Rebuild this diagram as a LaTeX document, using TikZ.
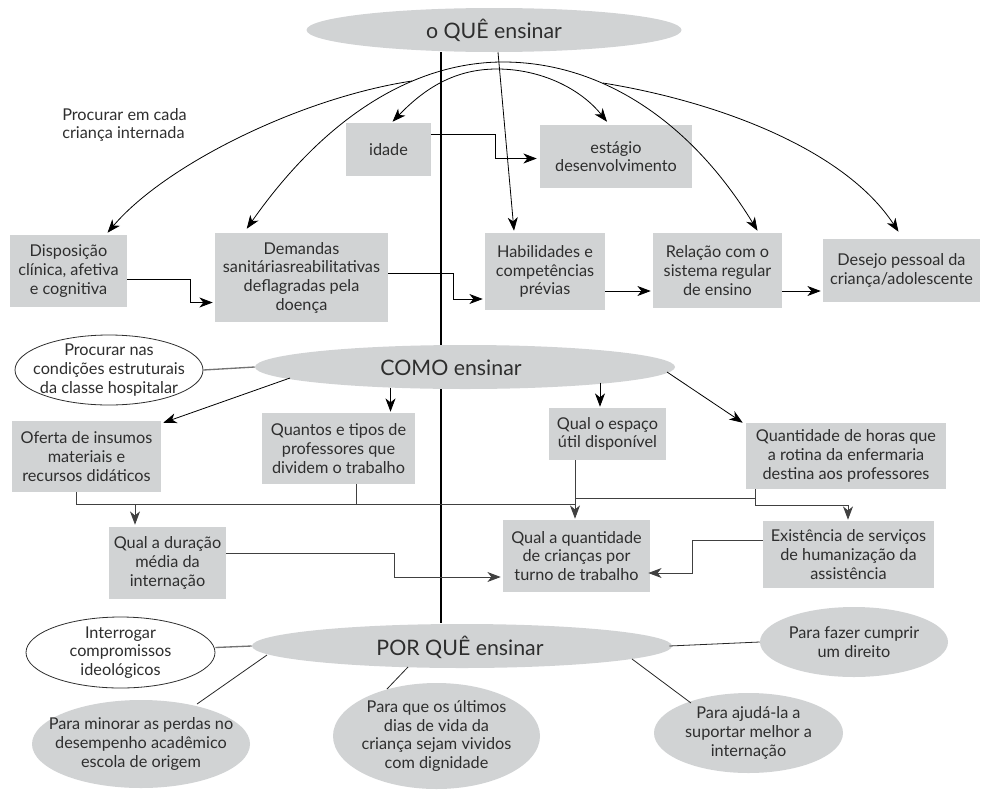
\documentclass[tikz,border=0pt]{standalone}
\usepackage{fontspec}
\setmainfont{Lato}
\usetikzlibrary{shapes.geometric,arrows.meta,calc,backgrounds}
\definecolor{boxgray}{HTML}{D1D3D4}
\definecolor{ink}{HTML}{2E2E2E}
\begin{document}
\begin{tikzpicture}[x=0.75pt,y=-0.75pt,
  txt/.style={text=ink, font=\fontsize{12.2}{14}\selectfont, align=center, inner sep=0pt},
  bigtxt/.style={text=ink, font=\fontsize{16}{19}\selectfont, inner sep=0pt},
  gbox/.style={fill=boxgray, txt},
  oval/.style={ellipse, fill=boxgray, inner sep=0pt},
  woval/.style={ellipse, draw=ink, fill=white, line width=0.6pt, inner sep=0pt},
  tip/.tip={Stealth[length=10pt,width=7.5pt,inset=3pt]},
  arr/.style={-tip, line width=0.6pt, draw=black},
  darr/.style={tip-tip, line width=0.6pt, draw=black},
  cline/.style={line width=0.7pt, draw=black!75},
  carr/.style={-tip, line width=0.7pt, draw=black!75},
  gline/.style={line width=1pt, draw=black!55},
  tline/.style={line width=0.6pt, draw=black!85},
]
\useasboundingbox (0,0) rectangle (981,789);

% ---- main ellipses
\node[oval, minimum width=281.25pt, minimum height=33pt] (oque) at (494,30) {};
\node[bigtxt] (oquet) at (oque) {o QUÊ ensinar};
\node[oval, minimum width=315pt, minimum height=33pt] (como) at (465,367) {};
\node[bigtxt] (comot) at (451,368) {COMO ensinar};
\node[oval, minimum width=315pt, minimum height=33pt] (porque) at (462,646) {};
\node[bigtxt] (porquet) at (460,647) {POR QUÊ ensinar};

% ---- axis
\begin{pgfonlayer}{background}
\draw[line width=0.8pt] ($(oque.south)+(-53,0)$) -- ($(porque.north)+(-21,-1)$);
\end{pgfonlayer}

% ---- label
\node[txt, align=left, anchor=west] (lbl) at (62,125) {Procurar em cada\\criança internada};

% ---- top boxes
\node[gbox, minimum width=63.75pt, minimum height=39.75pt] (idade) at (388.5,149.5) {idade};
\node[gbox, minimum width=114pt, minimum height=47.25pt] (estagio) at (616,156.5) {estágio\\desenvolvimento};
\node[gbox, minimum width=87.75pt, minimum height=54pt] (disp) at (68.5,271) {Disposição\\clínica, afetiva\\e cognitiva};
\node[gbox, minimum width=129.75pt, minimum height=66.75pt] (dem) at (301.5,277.5) {Demandas\\sanitáriasreabilitativas\\deflagradas pela\\doença};
\node[gbox, minimum width=90pt, minimum height=57.75pt] (hab) at (545,271.5) {Habilidades e\\competências\\prévias};
\node[gbox, minimum width=96.75pt, minimum height=56.25pt] (rel) at (717.5,270.5) {Relação com o\\sistema regular\\de ensino};
\node[gbox, minimum width=117.75pt, minimum height=47.25pt] (des) at (901.5,270.5) {Desejo pessoal da\\criança/adolescente};

% ---- COMO boxes
\node[woval, minimum width=141pt, minimum height=52.5pt] (procnas) at (109,370) {};
\node[txt] (procnast) at (procnas) {Procurar nas\\condições estruturais\\da classe hospitalar};
\node[gbox, minimum width=111.75pt, minimum height=53.25pt] (oferta) at (86.5,456.5) {Oferta de insumos\\materiais e\\recursos didáticos};
\node[gbox, minimum width=114.75pt, minimum height=53.25pt] (quantos) at (338.5,448.5) {Quantos e tipos de\\professores que\\dividem o trabalho};
\node[gbox, minimum width=87.75pt, minimum height=39pt] (espaco) at (607.5,434) {Qual o espaço\\útil disponível};
\node[gbox, minimum width=150pt, minimum height=49.5pt] (horas) at (846,456) {Quantidade de horas que\\a rotina da enfermaria\\destina aos professores};
\node[gbox, minimum width=87.75pt, minimum height=54pt] (duracao) at (167.5,563) {Qual a duração\\média da\\internação};
\node[gbox, minimum width=110.25pt, minimum height=54pt] (qtd) at (576.5,556) {Qual a quantidade\\de crianças por\\turno de trabalho};
\node[gbox, minimum width=128.25pt, minimum height=50.25pt] (exist) at (848.5,554.5) {Existência de serviços\\de humanização da\\assistência};

% ---- POR QUE ellipses
\node[woval, minimum width=141.75pt, minimum height=53.25pt] (interrogar) at (120.5,652.5) {};
\node[txt] (interrogart) at (interrogar) {Interrogar\\compromissos\\ideológicos};
\node[oval, minimum width=163.5pt, minimum height=66pt] (minorar) at (141,744) {};
\node[txt] (minorart) at (minorar) {Para minorar as perdas no\\desempenho acadêmico\\escola de origem};
\node[oval, minimum width=155.25pt, minimum height=79.5pt] (ultimos) at (436.5,736) {};
\node[txt] (ultimost) at (ultimos) {Para que os últimos\\dias de vida da\\criança sejam vividos\\com dignidade};
\node[oval, minimum width=141.75pt, minimum height=60pt] (ajuda) at (748.5,733) {};
\node[txt] (ajudat) at (ajuda) {Para ajudá-la a\\suportar melhor a\\internação};
\node[oval, minimum width=141pt, minimum height=52.5pt] (cumprir) at (854,642) {};
\node[txt] (cumprirt) at (cumprir) {Para fazer cumprir\\um direito};

% ---- top connectors
\coordinate (peakA) at (503,62);
\coordinate (peakB) at (497,69);
\coordinate (startL) at (412,81);
\coordinate (startR) at (603,83);
\draw[arr] ($(oque.south)+(4,0)$) -- ($(hab.north)+(-31,-2)$);
\draw[darr] ($(dem.north west)+(32,-4)$) .. controls (330,110) and (420,62) .. (peakA)
   .. controls (600,62) and (690,120) .. ($(rel.north)+(40,-2)$);
\draw[darr] ($(idade.north)+(4,-1)$) .. controls (425,88) and (455,69) .. (peakB)
   .. controls (540,69) and (580,88) .. ($(estagio.north)+(-9,-3)$);
\draw[arr] (startL) .. controls (300,98) and (165,165) .. ($(disp.north)+(39,-2)$);
\draw[arr] (startR) .. controls (720,102) and (845,150) .. ($(des.north)+(-3,-7)$);

\draw[arr] ($(idade.east)+(0,-15)$) -- ++(64,0) |- ($(estagio.west)+(-3,2)$);
\draw[arr] ($(disp.east)+(0,8)$) -- ++(63,0) |- ($(dem.west)+(-2,25)$);
\draw[arr] ($(dem.east)+(0,-4.5)$) -- ++(65,0) |- ($(hab.west)+(-2,27.5)$);
\draw[arr] ($(hab.east)+(0,19.5)$) -- ($(rel.west)+(-2,20.5)$);
\draw[arr] ($(rel.east)+(0,20.5)$) -- ($(des.west)+(-2,20.5)$);

% ---- COMO connectors
\draw[gline] (procnas.east) -- (como.west);
\draw[arr] ($(como.center)+(-175,11)$) -- ($(oferta.north east)+(2,2)$);
\draw[arr] ($(quantos.north)+(52,-25)$) -- ($(quantos.north)+(52,-1)$);
\draw[arr] ($(espaco.north)+(-7.5,-25)$) -- ($(espaco.north)+(-7.5,-1)$);
\draw[arr] ($(como.center)+(202,5)$) -- ($(horas.north west)+(-3,0)$);

\coordinate (j1) at (575,504);
\coordinate (j2) at (135,504);
\draw[cline] ($(oferta.south)+(-10.5,0)$) |- (j1);
\draw[cline] ($(quantos.south)+(17.5,0)$) -- ++(0,20);
\draw[carr] (j2) -- ($(duracao.north)+(-32.5,-2)$);
\draw[carr] ($(espaco.south)+(-32.5,0)$) -- ($(qtd.north)+(-1.5,-1)$);
\draw[cline] ($(espaco.south)+(-32.5,38)$) -| ($(horas.south)+(-91,0)$);
\draw[carr] ($(horas.south)+(-91,0)$) -- ++(0,16) -| ($(exist.north)+(-0.5,-1)$);
\draw[carr] ($(duracao.east)+(0,-10)$) -- ++(168,0) |- ($(qtd.west)+(-2,21)$);
\draw[carr] ($(exist.west)+(0,-14.5)$) -- ++(-70,0) |- ($(qtd.east)+(-2,17)$);

% ---- POR QUE connectors
\draw[gline] ($(interrogar.east)+(0,-5)$) -- (porque.west);
\draw[tline] ($(porque.center)+(-195,9)$) -- ($(minorar.center)+(56,-40)$);
\draw[tline] ($(porque.center)+(-54,21)$) -- ($(ultimos.center)+(-49.5,-47)$);
\draw[tline] ($(porque.center)+(170,13)$) -- ($(ajuda.center)+(-57.5,-30)$);
\draw[tline] ($(porque.east)+(-3,0)$) -- (cumprir.west);
\end{tikzpicture}
\end{document}
